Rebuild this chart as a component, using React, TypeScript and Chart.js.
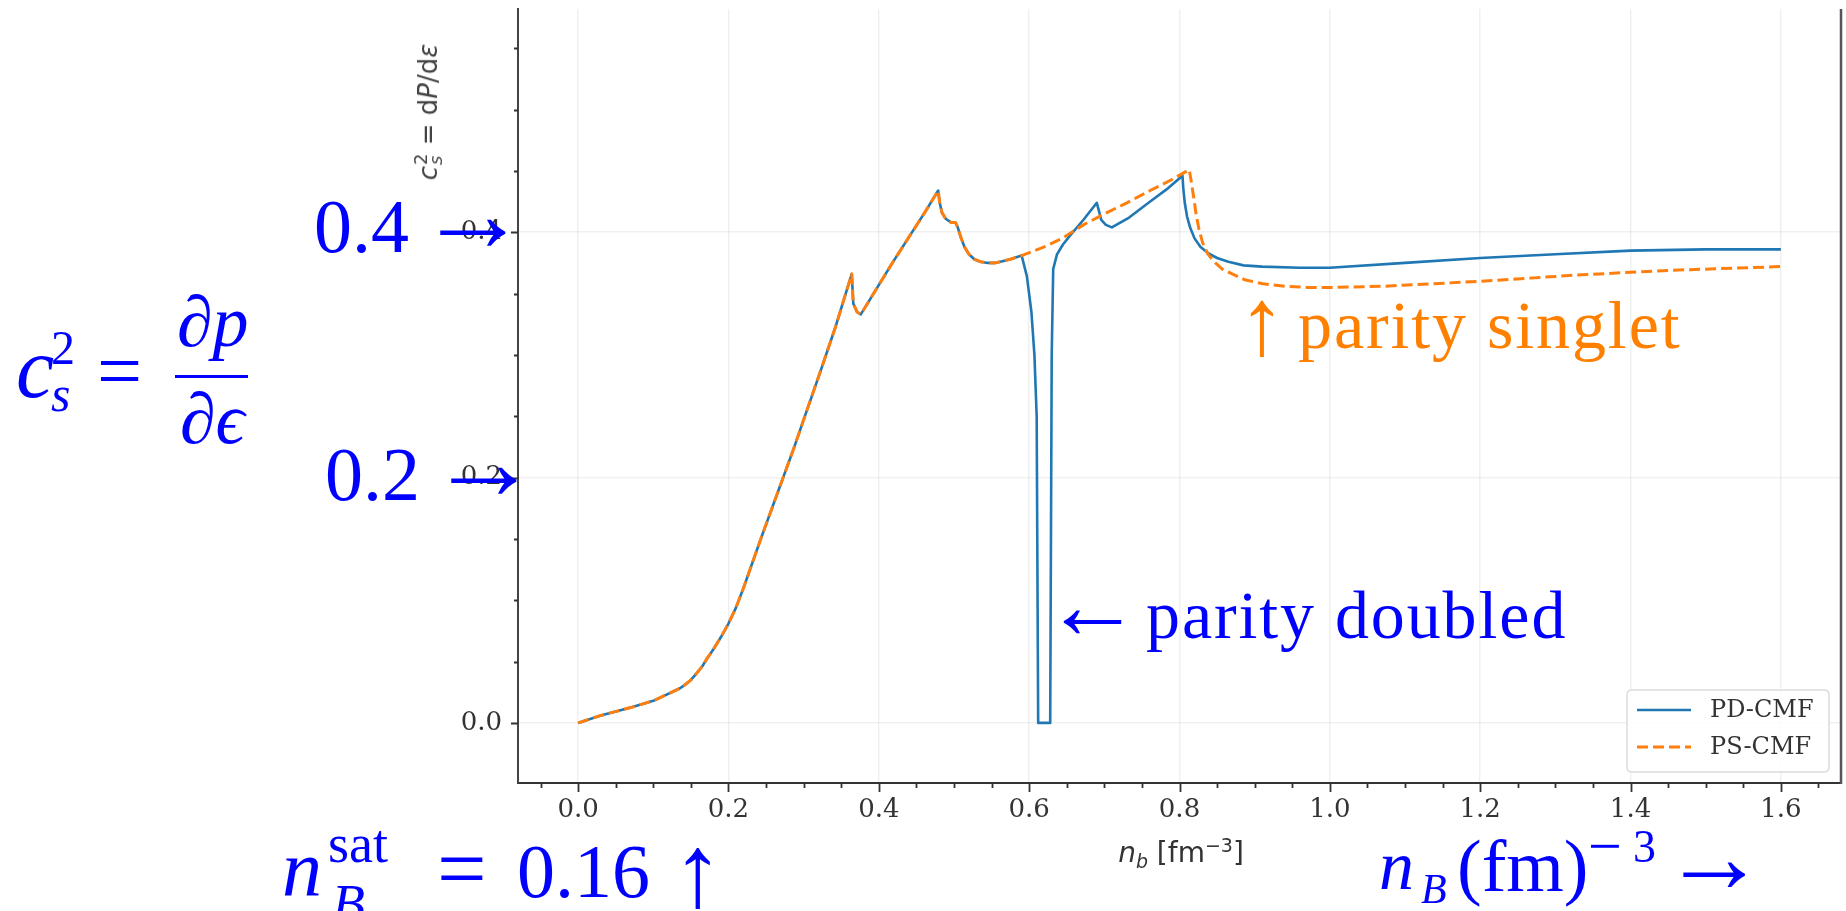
import React, { useEffect, useRef } from "react";
import { Chart, registerables } from "chart.js";

Chart.register(...registerables);

// ---------------- data ----------------
const seriesLabels = ["PD-CMF", "PS-CMF"];
const seriesColors = ["#1f77b4", "#ff7f0e"];

// low-density branch where both models coincide
const sharedDensity = [
  0.0, 0.03, 0.07, 0.1, 0.135, 0.142, 0.15, 0.157, 0.165, 0.172, 0.18, 0.19, 0.2, 0.21, 0.22, 0.243,
  0.265, 0.287, 0.305, 0.322, 0.343, 0.364, 0.366, 0.371, 0.376, 0.395, 0.417, 0.44, 0.461, 0.479,
  0.481, 0.484, 0.489, 0.496, 0.502, 0.505, 0.509, 0.514, 0.52, 0.527, 0.535, 0.545, 0.555, 0.575, 0.59,
];
const sharedCs2 = [
  0.0, 0.006, 0.0125, 0.018, 0.028, 0.031, 0.035, 0.04, 0.046, 0.053, 0.06, 0.07, 0.081, 0.094, 0.11, 0.15,
  0.187, 0.224, 0.256, 0.286, 0.324, 0.366, 0.342, 0.335, 0.333, 0.352, 0.374, 0.396, 0.416, 0.434,
  0.424, 0.416, 0.411, 0.408, 0.408, 0.404, 0.396, 0.388, 0.382, 0.378, 0.376, 0.375, 0.375, 0.378, 0.381,
];

// parity doubled tail
const pdDensity = [
  0.597, 0.603, 0.607, 0.61, 0.612, 0.628, 0.63, 0.632, 0.637, 0.645, 0.654, 0.672, 0.69, 0.696, 0.702,
  0.71, 0.733, 0.761, 0.785, 0.804, 0.805, 0.807, 0.81, 0.814, 0.82, 0.828, 0.838, 0.85, 0.865, 0.885,
  0.91, 0.96, 1.0, 1.1, 1.2, 1.3, 1.4, 1.5, 1.6,
];
const pdCs2 = [
  0.364, 0.335, 0.3, 0.25, 0.0, 0.0, 0.3, 0.37, 0.382, 0.39, 0.397, 0.41, 0.424, 0.41, 0.406,
  0.404, 0.412, 0.425, 0.436, 0.446, 0.436, 0.424, 0.413, 0.404, 0.395, 0.388, 0.383, 0.379, 0.376, 0.373,
  0.372, 0.371, 0.371, 0.375, 0.379, 0.382, 0.385, 0.386, 0.386,
];

// parity singlet tail
const psDensity = [
  0.62, 0.644, 0.672, 0.7, 0.73, 0.761, 0.79, 0.813, 0.816, 0.819, 0.822, 0.826, 0.831, 0.838, 0.846,
  0.857, 0.87, 0.888, 0.911, 0.94, 0.97, 1.0, 1.072, 1.2, 1.326, 1.454, 1.6,
];
const psCs2 = [
  0.388, 0.395, 0.406, 0.415, 0.424, 0.434, 0.443, 0.451, 0.44, 0.428, 0.415, 0.402, 0.391, 0.382, 0.376,
  0.37, 0.366, 0.361, 0.358, 0.356, 0.355, 0.355, 0.356, 0.36, 0.365, 0.369, 0.372,
];

const xTickLabels = ["0.0", "0.2", "0.4", "0.6", "0.8", "1.0", "1.2", "1.4", "1.6"];
const yTickLabels = ["0.0", "0.2", "0.4"];

const X_MIN = -0.08;
const X_MAX = 1.68;
const Y_MIN = -0.049;
const Y_MAX = 0.582;
const MINOR_STEP = 0.05;
const MAJOR_STEP = 0.2;

// ---------------- helpers ----------------
const isMajor = (v: number | undefined) => {
  if (v === undefined || v === null) return false;
  const q = v / MAJOR_STEP;
  return Math.abs(q - Math.round(q)) < 1e-6;
};

const toPoints = (xs: number[], ys: number[]) => xs.map((x, i) => ({ x, y: ys[i] }));

const BLUE = "#0000ff";
const ORANGE = "#ff8000";
const SERIF = '"Liberation Serif", "DejaVu Serif", serif';
const SANS = '"DejaVu Sans", sans-serif';

type GP = {
  x: number;
  base: number;
  size: number;
  color?: string;
  italic?: boolean;
  ls?: number;
  children: React.ReactNode;
};
function G({ x, base, size, color = BLUE, italic = false, ls = 0, children }: GP) {
  return (
    <div
      style={{
        position: "absolute",
        left: x,
        top: base - 0.8375 * size,
        fontFamily: SERIF,
        fontSize: size,
        lineHeight: `${size}px`,
        fontStyle: italic ? "italic" : "normal",
        color,
        whiteSpace: "nowrap",
        letterSpacing: ls,
      }}
    >
      {children}
    </div>
  );
}

// tick marks (major longer than minor) + right spine
const axisDecor = {
  id: "axisDecor",
  afterDraw(chart: any) {
    const { ctx, chartArea } = chart;
    const xs = chart.scales.x;
    const ys = chart.scales.y;
    ctx.save();
    ctx.strokeStyle = "#333";
    ctx.lineWidth = 1.8;
    ctx.beginPath();
    xs.ticks.forEach((t: any) => {
      const px = Math.round(xs.getPixelForValue(t.value)) + 0.5;
      const len = isMajor(t.value) ? 9 : 5;
      ctx.moveTo(px, chartArea.bottom);
      ctx.lineTo(px, chartArea.bottom + len);
    });
    ys.ticks.forEach((t: any) => {
      const py = Math.round(ys.getPixelForValue(t.value)) + 0.5;
      const len = isMajor(t.value) ? 7 : 4;
      ctx.moveTo(chartArea.left, py);
      ctx.lineTo(chartArea.left - len, py);
    });
    ctx.stroke();
    // right spine
    ctx.strokeStyle = "#555";
    ctx.lineWidth = 2.5;
    ctx.beginPath();
    ctx.moveTo(chartArea.right, chartArea.top);
    ctx.lineTo(chartArea.right, chartArea.bottom + 1);
    ctx.stroke();
    ctx.restore();
  },
};

// boxed legend in the lower right of the plot area
const boxLegend = {
  id: "boxLegend",
  afterDraw(chart: any) {
    const { ctx, chartArea } = chart;
    const w = 202;
    const h = 82;
    const x0 = chartArea.right - 12 - w;
    const y0 = chartArea.bottom - 11 - h;
    ctx.save();
    ctx.beginPath();
    const r = 5;
    ctx.moveTo(x0 + r, y0);
    ctx.lineTo(x0 + w - r, y0);
    ctx.quadraticCurveTo(x0 + w, y0, x0 + w, y0 + r);
    ctx.lineTo(x0 + w, y0 + h - r);
    ctx.quadraticCurveTo(x0 + w, y0 + h, x0 + w - r, y0 + h);
    ctx.lineTo(x0 + r, y0 + h);
    ctx.quadraticCurveTo(x0, y0 + h, x0, y0 + h - r);
    ctx.lineTo(x0, y0 + r);
    ctx.quadraticCurveTo(x0, y0, x0 + r, y0);
    ctx.closePath();
    ctx.fillStyle = "rgba(255,255,255,0.85)";
    ctx.fill();
    ctx.strokeStyle = "#dcdcdc";
    ctx.lineWidth = 1.5;
    ctx.stroke();

    chart.data.datasets.forEach((ds: any, i: number) => {
      const cy = y0 + 20 + i * 37;
      ctx.beginPath();
      ctx.strokeStyle = ds.borderColor;
      ctx.lineWidth = ds.borderWidth;
      ctx.setLineDash(ds.borderDash || []);
      ctx.moveTo(x0 + 10, cy);
      ctx.lineTo(x0 + 64, cy);
      ctx.stroke();
      ctx.setLineDash([]);
      ctx.fillStyle = "#333";
      ctx.font = '24px "DejaVu Serif"';
      ctx.textBaseline = "middle";
      ctx.textAlign = "left";
      ctx.fillText(ds.label, x0 + 83, cy + 1);
    });
    ctx.restore();
  },
};

export default function App() {
  const ref = useRef<HTMLCanvasElement>(null);

  useEffect(() => {
    if (!ref.current) return;
    const pdPoints = toPoints([...sharedDensity, ...pdDensity], [...sharedCs2, ...pdCs2]);
    const psPoints = toPoints([...sharedDensity, ...psDensity], [...sharedCs2, ...psCs2]);

    const tickFont = { family: "DejaVu Serif", size: 26 };

    const chart = new Chart(ref.current, {
      type: "line",
      data: {
        datasets: [
          {
            label: seriesLabels[0],
            data: pdPoints,
            borderColor: seriesColors[0],
            backgroundColor: seriesColors[0],
            borderWidth: 2.6,
            pointRadius: 0,
            fill: false,
            tension: 0,
            borderJoinStyle: "round",
            order: 1,
          },
          {
            label: seriesLabels[1],
            data: psPoints,
            borderColor: seriesColors[1],
            backgroundColor: seriesColors[1],
            borderWidth: 3,
            borderDash: [11, 5],
            pointRadius: 0,
            fill: false,
            tension: 0,
            borderJoinStyle: "round",
            order: 0,
          },
        ],
      },
      options: {
        animation: false,
        responsive: false,
        devicePixelRatio: 1,
        layout: { padding: { left: 0, top: 9, right: 5, bottom: 0 } },
        plugins: { legend: { display: false }, tooltip: { enabled: false } },
        scales: {
          x: {
            type: "linear",
            min: X_MIN,
            max: X_MAX,
            afterFit: (s: any) => {
              s.height = 128;
              s.paddingLeft = 0;
              s.paddingRight = 0;
            },
            border: { display: true, color: "#333", width: 2 },
            grid: {
              drawTicks: false,
              lineWidth: 1.5,
              color: (c: any) => (isMajor(c.tick?.value) ? "rgba(0,0,0,0.06)" : "rgba(0,0,0,0)"),
            },
            ticks: {
              stepSize: MINOR_STEP,
              maxTicksLimit: 100,
              includeBounds: false,
              autoSkip: false,
              maxRotation: 0,
              minRotation: 0,
              padding: 12,
              color: "#333",
              font: tickFont,
              callback: (v: any) => {
                const val = Number(v);
                if (!isMajor(val)) return "";
                const idx = Math.round(val / MAJOR_STEP);
                return idx >= 0 && idx < xTickLabels.length ? xTickLabels[idx] : "";
              },
            },
          },
          y: {
            type: "linear",
            min: Y_MIN,
            max: Y_MAX,
            afterFit: (s: any) => {
              s.width = 518;
              s.paddingTop = 0;
              s.paddingBottom = 0;
            },
            border: { display: true, color: "#444", width: 2 },
            grid: {
              drawTicks: false,
              lineWidth: 1.5,
              color: (c: any) => (isMajor(c.tick?.value) ? "rgba(0,0,0,0.06)" : "rgba(0,0,0,0)"),
            },
            ticks: {
              stepSize: MINOR_STEP,
              maxTicksLimit: 100,
              includeBounds: false,
              autoSkip: false,
              padding: 16,
              color: "#333",
              font: tickFont,
              callback: (v: any) => {
                const val = Number(v);
                if (!isMajor(val)) return "";
                const idx = Math.round(val / MAJOR_STEP);
                return idx >= 0 && idx < yTickLabels.length ? yTickLabels[idx] : "";
              },
            },
          },
        },
      },
      plugins: [axisDecor, boxLegend],
    } as any);

    return () => chart.destroy();
  }, []);

  return (
    <div
      style={{
        position: "absolute",
        left: 0,
        top: 0,
        width: 1846,
        height: 911,
        overflow: "hidden",
        background: "#fff",
      }}
    >
      <canvas ref={ref} width={1846} height={911} style={{ position: "absolute", left: 0, top: 0 }} />

      {/* y-axis title (matplotlib mathtext) */}
      <div
        style={{
          position: "absolute",
          left: 428,
          top: 112,
          transform: "translate(-50%, -50%) rotate(-90deg)",
          fontFamily: SANS,
          fontSize: 26,
          color: "#444",
          whiteSpace: "nowrap",
          lineHeight: "28px",
          display: "flex",
          alignItems: "center",
        }}
      >
        <span style={{ fontStyle: "italic" }}>c</span>
        <span
          style={{
            display: "inline-flex",
            flexDirection: "column",
            fontSize: 18,
            lineHeight: "15px",
            marginLeft: 1,
          }}
        >
          <span>2</span>
          <span style={{ fontStyle: "italic" }}>s</span>
        </span>
        <span>&nbsp;=&nbsp;d</span>
        <span style={{ fontStyle: "italic" }}>P</span>
        <span>/d</span>
        <span style={{ fontStyle: "italic" }}>ε</span>
      </div>

      {/* x-axis title */}
      <div
        style={{
          position: "absolute",
          left: 1181,
          top: 853,
          transform: "translate(-50%, -50%)",
          fontFamily: SANS,
          fontSize: 28,
          color: "#333",
          whiteSpace: "nowrap",
        }}
      >
        <span style={{ fontStyle: "italic" }}>n</span>
        <sub style={{ fontStyle: "italic", fontSize: 19 }}>b</sub>
        <span> [fm</span>
        <sup style={{ fontSize: 19 }}>−3</sup>
        <span>]</span>
      </div>

      {/* 0.4 → */}
      <G x={314} base={252} size={76}>0.4</G>
      <G x={418} base={251} size={110}>→</G>
      {/* 0.2 → */}
      <G x={325} base={500} size={76}>0.2</G>
      <G x={429} base={499} size={110}>→</G>

      {/* c_s^2 = ∂p/∂ε */}
      <G x={16} base={397} size={86} italic>c</G>
      <G x={51} base={364} size={48}>2</G>
      <G x={51} base={411} size={50} italic>s</G>
      <G x={97} base={398} size={80}>=</G>
      <div style={{ position: "absolute", left: 175, top: 375, width: 73, height: 3, background: BLUE }} />
      <G x={177} base={346} size={72} italic>∂p</G>
      <G x={180} base={443} size={72} italic>∂ϵ</G>

      {/* n_B^sat = 0.16 ↑ */}
      <G x={282} base={895} size={80} italic>n</G>
      <G x={328} base={862} size={54}>sat</G>
      <G x={332} base={922} size={54} italic>B</G>
      <G x={437} base={899} size={88}>=</G>
      <G x={517} base={897} size={76}>0.16</G>
      <G x={672} base={906} size={103}>↑</G>

      {/* n_B (fm)^-3 → */}
      <G x={1379} base={890} size={70} italic>n</G>
      <G x={1421} base={903} size={42} italic>B</G>
      <G x={1457} base={891} size={74}>(fm)</G>
      <G x={1588} base={866} size={60}>−</G>
      <G x={1633} base={863} size={46}>3</G>
      <G x={1662} base={892} size={104}>→</G>

      {/* ← parity doubled */}
      <G x={1044} base={638} size={97}>←</G>
      <G x={1146} base={638} size={68} ls={1.9}>parity doubled</G>

      {/* ↑ parity singlet */}
      <G x={1238} base={355} size={95} color={ORANGE}>↑</G>
      <G x={1298} base={348} size={68} color={ORANGE} ls={1.9}>parity singlet</G>
    </div>
  );
}
